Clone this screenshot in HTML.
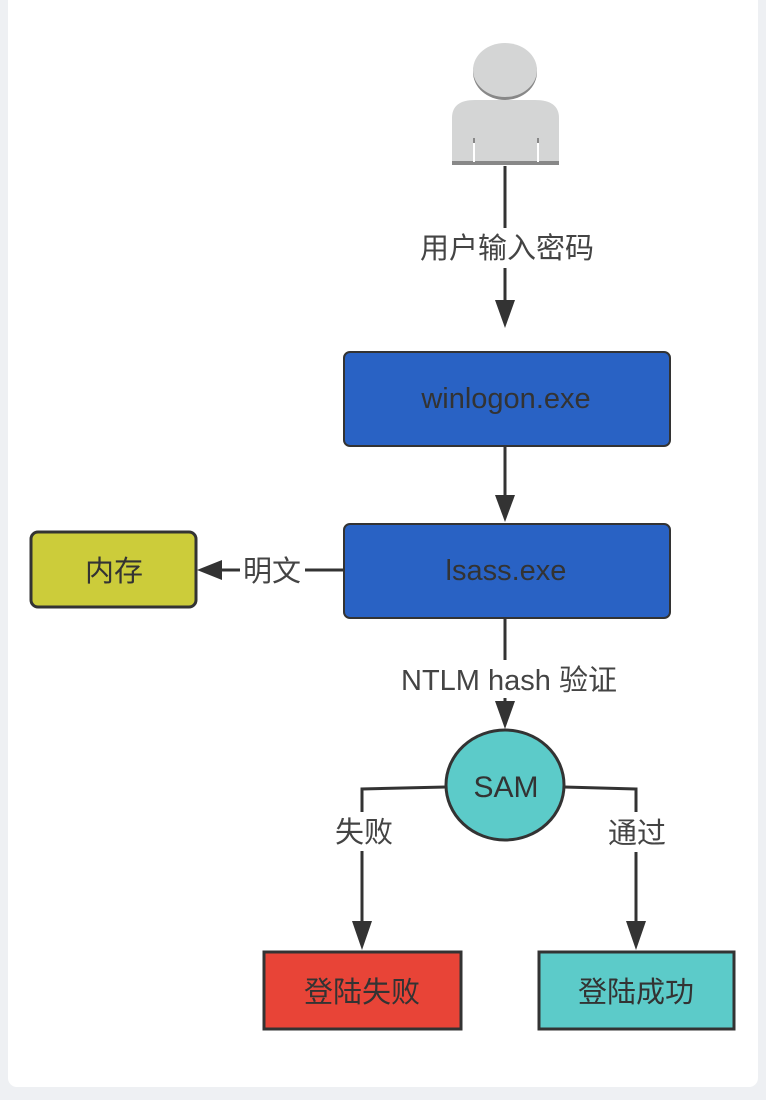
<!DOCTYPE html>
<html><head><meta charset="utf-8"><style>
html,body{margin:0;padding:0;width:766px;height:1100px;background:#eef0f3;overflow:hidden}
svg{display:block}
text{font-family:"Liberation Sans","Noto Sans CJK SC",sans-serif;}
</style></head><body>
<svg width="766" height="1100" viewBox="0 0 766 1100">
<rect x="8" y="-10" width="750" height="1097" rx="9" fill="#fff"/>
<!-- person -->
<ellipse cx="505" cy="72" rx="32" ry="28" fill="#888"/>
<ellipse cx="505" cy="70" rx="32" ry="27" fill="#d4d5d5"/>
<path d="M452 164 V118 Q452 100 475 100 H535 Q559 100 559 118 V164 Z" fill="#d4d5d5"/>
<rect x="452" y="161" width="107" height="4" fill="#888"/>
<rect x="473" y="138" width="2" height="24" fill="#fff"/>
<rect x="537" y="138" width="2" height="24" fill="#fff"/>
<rect x="473" y="138" width="2" height="5" fill="#888"/>
<rect x="537" y="138" width="2" height="5" fill="#888"/>
<g stroke="#333" stroke-width="3" fill="none">
<line x1="505" y1="166" x2="505" y2="228"/>
<line x1="505" y1="268" x2="505" y2="305"/>
<line x1="505" y1="446" x2="505" y2="500"/>
<line x1="343" y1="570" x2="305" y2="570"/>
<line x1="240" y1="570" x2="218" y2="570"/>
<line x1="505" y1="618" x2="505" y2="660"/>
<line x1="505" y1="698" x2="505" y2="708"/>
<polyline points="446,787 362,789 362,812"/>
<line x1="362" y1="851" x2="362" y2="925"/>
<polyline points="564,787 636,789 636,812"/>
<line x1="636" y1="852" x2="636" y2="925"/>
</g>
<g fill="#333">
<polygon points="495,300 515,300 505,328"/>
<polygon points="495,495 515,495 505,522"/>
<polygon points="222,560 222,580 197,570"/>
<polygon points="495,701 515,701 505,729"/>
<polygon points="352,921 372,921 362,950"/>
<polygon points="626,921 646,921 636,950"/>
</g>
<rect x="344" y="352" width="326" height="94" rx="6" fill="#2962c4" stroke="#333" stroke-width="2"/>
<rect x="344" y="524" width="326" height="94" rx="6" fill="#2962c4" stroke="#333" stroke-width="2"/>
<rect x="31" y="532" width="165" height="75" rx="7" fill="#cccc3a" stroke="#333" stroke-width="3"/>
<ellipse cx="505" cy="785" rx="59" ry="55" fill="#5ccbc9" stroke="#333" stroke-width="3"/>
<rect x="264" y="952" width="197" height="77" fill="#e84437" stroke="#333" stroke-width="3"/>
<rect x="539" y="952" width="195" height="77" fill="#5ccbc9" stroke="#333" stroke-width="3"/>
<g font-size="29" fill="#333" text-anchor="middle">
<text x="506" y="408">winlogon.exe</text>
<text x="506" y="580">lsass.exe</text>
<text x="114" y="581">内存</text>
<text x="506" y="797" font-size="30">SAM</text>
<text x="362" y="1002">登陆失败</text>
<text x="636" y="1002">登陆成功</text>
</g>
<g font-size="29" fill="#444" text-anchor="middle">
<text x="507" y="258">用户输入密码</text>
<text x="272" y="581">明文</text>
<text x="509" y="690">NTLM hash 验证</text>
<text x="364" y="842">失败</text>
<text x="637" y="843">通过</text>
</g>
</svg>
</body></html>
